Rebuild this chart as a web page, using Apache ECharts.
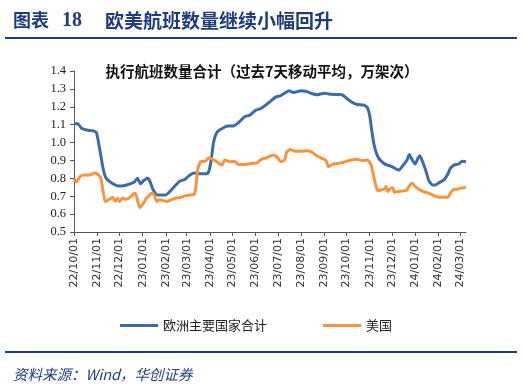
<!DOCTYPE html>
<html><head><meta charset="utf-8">
<script src="https://cdn.jsdelivr.net/npm/echarts@6/dist/echarts.min.js"></script>
<style>html,body{margin:0;padding:0;background:#fff}#c{width:524px;height:387px}</style>
</head><body><div id="c"></div>
<script>
const seriesNames = ['欧洲主要国家合计', '美国'];
const yTicks = [0.5, 1.4, 0.1];
const europeDates = ['2022-10-01','2022-10-06','2022-10-11','2022-10-18','2022-10-27','2022-10-31','2022-11-02','2022-11-05','2022-11-09','2022-11-13','2022-11-20','2022-11-29','2022-12-08','2022-12-16','2022-12-21','2022-12-25','2022-12-29','2023-01-03','2023-01-08','2023-01-11','2023-01-14','2023-01-19','2023-01-23','2023-02-01','2023-02-06','2023-02-13','2023-02-20','2023-02-27','2023-03-04','2023-03-11','2023-03-19','2023-03-28','2023-03-31','2023-04-03','2023-04-06','2023-04-10','2023-04-14','2023-04-21','2023-04-25','2023-05-02','2023-05-09','2023-05-18','2023-05-24','2023-06-01','2023-06-08','2023-06-14','2023-06-21','2023-06-28','2023-07-05','2023-07-11','2023-07-16','2023-07-22','2023-08-01','2023-08-07','2023-08-13','2023-08-22','2023-09-01','2023-09-07','2023-09-16','2023-09-25','2023-10-02','2023-10-08','2023-10-15','2023-10-24','2023-10-29','2023-11-01','2023-11-04','2023-11-07','2023-11-11','2023-11-15','2023-11-22','2023-12-01','2023-12-10','2023-12-16','2023-12-21','2023-12-24','2023-12-27','2024-01-01','2024-01-04','2024-01-07','2024-01-10','2024-01-15','2024-01-19','2024-01-24','2024-01-28','2024-02-02','2024-02-08','2024-02-13','2024-02-17','2024-02-22','2024-02-28','2024-03-04','2024-03-09'];
const europeValues = [1.105,1.105,1.08,1.07,1.065,1.055,1.02,0.95,0.855,0.80,0.775,0.757,0.76,0.77,0.78,0.80,0.77,0.79,0.80,0.78,0.745,0.71,0.707,0.707,0.725,0.757,0.785,0.795,0.815,0.83,0.825,0.825,0.845,0.91,1.004,1.054,1.07,1.087,1.093,1.093,1.11,1.146,1.152,1.18,1.19,1.207,1.23,1.254,1.263,1.278,1.29,1.28,1.29,1.287,1.278,1.267,1.276,1.272,1.269,1.267,1.244,1.226,1.213,1.21,1.194,1.152,1.06,0.985,0.93,0.902,0.878,0.865,0.846,0.874,0.902,0.933,0.911,0.88,0.907,0.926,0.902,0.846,0.79,0.763,0.763,0.776,0.79,0.818,0.856,0.874,0.88,0.896,0.893];
const usDates = ['2022-10-01','2022-10-04','2022-10-09','2022-10-15','2022-10-22','2022-10-27','2022-10-30','2022-11-03','2022-11-06','2022-11-09','2022-11-12','2022-11-17','2022-11-22','2022-11-25','2022-11-28','2022-12-01','2022-12-05','2022-12-09','2022-12-14','2022-12-18','2022-12-22','2022-12-25','2022-12-28','2023-01-02','2023-01-06','2023-01-10','2023-01-12','2023-01-16','2023-01-20','2023-01-23','2023-01-28','2023-02-02','2023-02-08','2023-02-15','2023-02-22','2023-02-26','2023-03-06','2023-03-11','2023-03-13','2023-03-16','2023-03-20','2023-03-26','2023-03-31','2023-04-03','2023-04-10','2023-04-17','2023-04-21','2023-04-28','2023-05-04','2023-05-09','2023-05-18','2023-05-27','2023-06-03','2023-06-09','2023-06-16','2023-06-25','2023-07-01','2023-07-05','2023-07-10','2023-07-13','2023-07-18','2023-07-24','2023-08-01','2023-08-09','2023-08-15','2023-08-22','2023-08-29','2023-09-03','2023-09-07','2023-09-12','2023-09-18','2023-09-25','2023-10-02','2023-10-08','2023-10-15','2023-10-22','2023-10-29','2023-11-03','2023-11-06','2023-11-09','2023-11-12','2023-11-15','2023-11-20','2023-11-23','2023-11-25','2023-11-29','2023-12-02','2023-12-04','2023-12-09','2023-12-16','2023-12-21','2023-12-24','2023-12-28','2024-01-01','2024-01-06','2024-01-12','2024-01-19','2024-01-26','2024-02-02','2024-02-08','2024-02-14','2024-02-17','2024-02-22','2024-02-26','2024-03-01','2024-03-09'];
const usValues = [0.80,0.78,0.81,0.818,0.818,0.828,0.83,0.818,0.80,0.726,0.67,0.683,0.694,0.67,0.69,0.67,0.69,0.683,0.69,0.707,0.717,0.68,0.637,0.66,0.69,0.704,0.717,0.711,0.67,0.68,0.676,0.67,0.68,0.69,0.694,0.702,0.707,0.711,0.744,0.856,0.893,0.896,0.915,0.911,0.893,0.874,0.902,0.893,0.896,0.878,0.878,0.883,0.887,0.906,0.915,0.93,0.915,0.893,0.902,0.948,0.961,0.952,0.952,0.954,0.948,0.926,0.911,0.902,0.865,0.878,0.883,0.887,0.896,0.902,0.907,0.90,0.902,0.874,0.818,0.763,0.73,0.735,0.739,0.754,0.726,0.744,0.748,0.722,0.726,0.73,0.735,0.757,0.772,0.754,0.739,0.726,0.717,0.704,0.694,0.694,0.694,0.717,0.739,0.739,0.744,0.75];

const chart = echarts.init(document.getElementById('c'), null, {renderer: 'canvas'});
const pad = n => (n < 10 ? '0' : '') + n;
const navy = '#1f3d7a';
chart.setOption({
  animation: false,
  title: [
    {text: '图表', left: 8, top: 6,
     textStyle: {fontFamily: '"Noto Sans CJK SC"', fontSize: 18, fontWeight: 'bold', color: navy}},
    {text: '18', left: 57, top: 6,
     textStyle: {fontFamily: '"Liberation Serif"', fontSize: 20, fontWeight: 'bold', color: navy}},
    {text: '欧美航班数量继续小幅回升', left: 100, top: 6,
     textStyle: {fontFamily: '"Noto Sans CJK SC"', fontSize: 19, fontWeight: 'bold', color: navy}},
    {text: '执行航班数量合计（过去7天移动平均，万架次）', left: 'center', top: 59,
     textStyle: {fontFamily: '"Noto Sans CJK SC"', fontSize: 14.5, fontWeight: 'bold', color: '#111'}},
    {text: '资料来源：Wind，华创证券', left: 8, top: 362,
     textStyle: {fontFamily: '"Noto Sans CJK SC"', fontSize: 14.5, fontStyle: 'italic', fontWeight: 'normal', color: navy}}
  ],
  graphic: [
    {type: 'rect', shape: {x: 5, y: 37, width: 512, height: 2}, style: {fill: navy}},
    {type: 'rect', shape: {x: 5, y: 351, width: 512, height: 2}, style: {fill: navy}}
  ],
  legend: {
    bottom: 50, left: 115, itemGap: 56, itemWidth: 38, itemHeight: 3,
    icon: 'rect',
    textStyle: {fontFamily: '"Noto Sans CJK SC"', fontSize: 13, color: '#222'},
    data: seriesNames
  },
  grid: {left: 74, right: 58, top: 71, bottom: 155, containLabel: false},
  xAxis: {
    type: 'time', min: '2022-10-01', max: '2024-03-09',
    splitNumber: 18, minInterval: 28 * 864e5, maxInterval: 31 * 864e5,
    axisLine: {lineStyle: {color: '#555', width: 1}},
    axisTick: {show: true, length: 4, lineStyle: {color: '#555'}},
    splitLine: {show: false},
    axisLabel: {
      rotate: 90, fontSize: 11, color: '#333', fontFamily: '"DejaVu Sans"', margin: 6,
      formatter: function (v) { const d = new Date(v); return pad(d.getFullYear() % 100) + '/' + pad(d.getMonth() + 1) + '/' + pad(d.getDate()); },
      hideOverlap: false
    }
  },
  yAxis: {
    type: 'value', min: yTicks[0], max: yTicks[1], interval: yTicks[2],
    axisLine: {show: true, lineStyle: {color: '#555'}},
    axisTick: {show: true, length: 4, lineStyle: {color: '#555'}},
    splitLine: {show: false},
    axisLabel: {fontSize: 12.5, color: '#222', fontFamily: '"Liberation Serif"', margin: 8,
      formatter: v => v.toFixed(1)}
  },
  series: [
    {name: seriesNames[0], type: 'line', showSymbol: false, symbol: 'none', smooth: 0.2,
     lineStyle: {width: 3, color: '#3d6aa8'}, itemStyle: {color: '#3d6aa8'},
     data: europeDates.map((d, i) => [d, europeValues[i]])},
    {name: seriesNames[1], type: 'line', showSymbol: false, symbol: 'none', smooth: 0.2,
     lineStyle: {width: 3, color: '#f7953f'}, itemStyle: {color: '#f7953f'},
     data: usDates.map((d, i) => [d, usValues[i]])}
  ]
});
</script></body></html>
